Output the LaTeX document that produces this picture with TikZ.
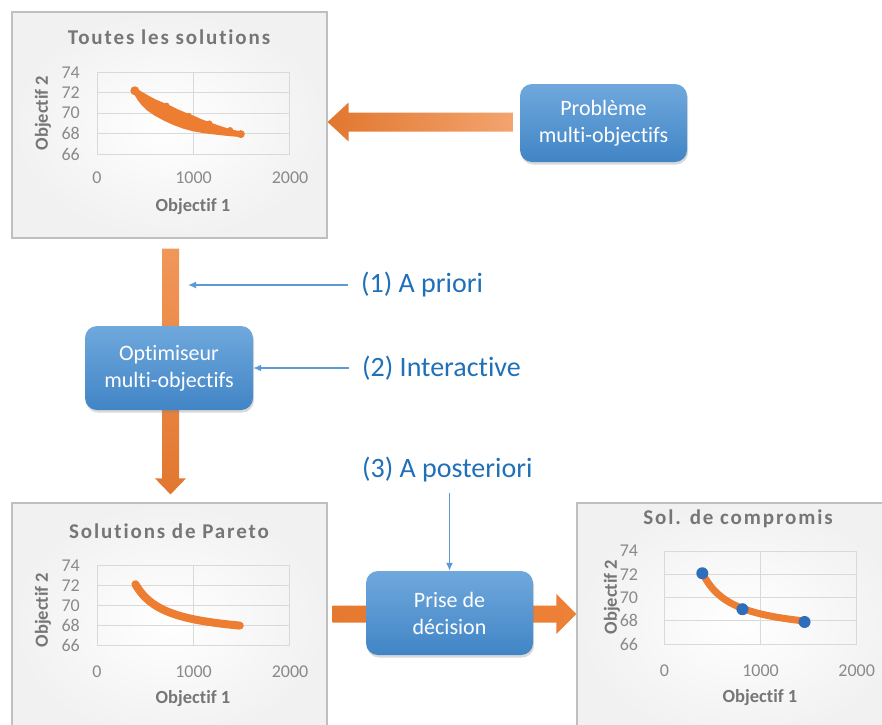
\documentclass[tikz,border=0pt]{standalone}
\usepackage{fontspec}
\setmainfont{Carlito}[Ligatures=NoCommon]
\usetikzlibrary{calc,arrows.meta,shadows}
\definecolor{orng}{HTML}{ED7D31}
\definecolor{dotblue}{HTML}{2F6EBA}
\definecolor{framegray}{HTML}{BFBFBF}
\definecolor{bggray}{HTML}{F1F1F1}
\definecolor{gridgray}{HTML}{D9D9D9}
\definecolor{titlegray}{HTML}{767676}
\definecolor{tickgray}{HTML}{8A8A8A}
\definecolor{boxtop}{HTML}{6FA8DC}
\definecolor{boxbot}{HTML}{4185C6}
\definecolor{lblblue}{HTML}{1F70B8}
\definecolor{linkblue}{HTML}{5B9BD5}
\begin{document}
\begin{tikzpicture}[x=1pt,y=-1pt,
  chartframe/.style={rectangle, draw=framegray, line width=1.2pt, inner color=white, outer color=bggray, inner sep=0},
  bluebox/.style={rectangle, rounded corners=12pt, top color=boxtop, bottom color=boxbot, text=white, align=center,
    font=\fontsize{22}{27}\selectfont, inner sep=0, minimum width=167pt,
    drop shadow={shadow xshift=1pt, shadow yshift=-2.5pt, opacity=0.3}},
  ctitle/.style={font=\fontsize{21}{24}\selectfont\bfseries\addfontfeatures{LetterSpace=9}, text=titlegray, inner sep=0},
  tick/.style={font=\fontsize{18}{20}\selectfont, text=tickgray, inner sep=0},
  axtitle/.style={font=\fontsize{18.5}{20}\selectfont\bfseries, text=titlegray, inner sep=0},
  gridl/.style={draw=gridgray, line width=1pt},
  lbl/.style={font=\fontsize{28}{32}\selectfont, text=lblblue, inner sep=0, anchor=west},
  link/.style={draw=linkblue, line width=1.3pt, -{Latex[length=8pt,width=7pt]}},
  curve/.style={draw=orng, line cap=round, line join=round}
]
\useasboundingbox (0,0) rectangle (882,724);
\clip (0,0) rectangle (882,724);

% ---------- chart frames ----------
\node[chartframe, minimum width=315pt, minimum height=226pt] (c1) at (169.5,125) {};
\node[chartframe, minimum width=315pt, minimum height=237pt] (c2) at (169.5,621.5) {};
\node[chartframe, minimum width=326pt, minimum height=237pt] (c3) at (740,621.5) {};

% ---------- chart 1 ----------
\node[ctitle] (t1) at (169,37) {Toutes les solutions};
\node[axtitle] (x1) at (193,207) {Objectif 1};
\node[axtitle, rotate=90] (y1) at (43,113) {Objectif 2};
\begin{scope}[shift={(97,154)}, x=0.0965pt, y=10.2pt]
  \draw[gridl] (0,0) rectangle (2000,8);
  \foreach \v in {2,4,6} \draw[gridl] (0,\v) -- (2000,\v);
  \draw[gridl] (1000,0) -- (1000,8);
  \foreach \v/\t in {0/66,2/68,4/70,6/72,8/74}
    \node[tick, anchor=east] at ([xshift=-17pt]0,\v) {\t};
  \foreach \u in {0,1000,2000}
    \node[tick] at ([yshift=-24pt]\u,0) {\u};
  \filldraw[orng, line width=3pt, line join=round]
    (385,6.4) -- (430,6.12) -- (480,5.85) -- (540,5.52) -- (600,5.22) -- (680,4.9) -- (756,4.6)
    -- (830,4.25) -- (900,3.97) -- (1000,3.6) -- (1070,3.3) -- (1140,3.05) -- (1220,2.78)
    -- (1300,2.52) -- (1360,2.35) -- (1420,2.2) -- (1500,2.05)
    -- (1500,1.8) -- (1400,1.88) -- (1300,1.97) -- (1200,2.08) -- (1100,2.2) -- (1000,2.37)
    -- (900,2.62) -- (800,2.97) -- (700,3.4) -- (600,3.92) -- (530,4.38) -- (480,4.83)
    -- (440,5.3) -- (410,5.75) -- (395,6.05) -- cycle;
  \fill[orng] (392,6.2) circle[radius=4.5pt];
  \fill[orng] (720,4.75) circle[radius=3pt];
  \fill[orng] (950,3.75) circle[radius=3pt];
  \fill[orng] (1165,3.0) circle[radius=3pt];
  \fill[orng] (1380,2.35) circle[radius=3pt];
  \fill[orng] (1490,1.95) circle[radius=4pt];
\end{scope}

% ---------- chart 2 ----------
\node[ctitle] (t2) at (169,531) {Solutions de Pareto};
\node[axtitle] (x2) at (193,699) {Objectif 1};
\node[axtitle, rotate=90] (y2) at (43,610) {Objectif 2};
\begin{scope}[shift={(97,645.7)}, x=0.0965pt, y=10pt]
  \draw[gridl] (0,0) rectangle (2000,8);
  \foreach \v in {2,4,6} \draw[gridl] (0,\v) -- (2000,\v);
  \draw[gridl] (1000,0) -- (1000,8);
  \foreach \v/\t in {0/66,2/68,4/70,6/72,8/74}
    \node[tick, anchor=east] at ([xshift=-17pt]0,\v) {\t};
  \foreach \u in {0,1000,2000}
    \node[tick] at ([yshift=-26pt]\u,0) {\u};
  \draw[curve, line width=8pt] plot[domain=398:1480, samples=40] (\x,{0.8+1700/(\x-80)});
\end{scope}

% ---------- chart 3 ----------
\node[ctitle] (t3) at (738,519) {Sol. de compromis};
\node[axtitle] (x3) at (760,698) {Objectif 1};
\node[axtitle, rotate=90] (y3) at (612,597) {Objectif 2};
\begin{scope}[shift={(664.3,644)}, x=0.0962pt, y=11.6pt]
  \draw[gridl] (0,0) rectangle (2000,8);
  \foreach \v in {2,4,6} \draw[gridl] (0,\v) -- (2000,\v);
  \draw[gridl] (1000,0) -- (1000,8);
  \foreach \v/\t in {0/66,2/68,4/70,6/72,8/74}
    \node[tick, anchor=east] at ([xshift=-26pt]0,\v) {\t};
  \foreach \u in {0,1000,2000}
    \node[tick] at ([yshift=-26.7pt]\u,0) {\u};
  \draw[curve, line width=7pt] plot[domain=398:1458, samples=40] (\x,{0.75+1700/(\x-80)});
  \fill[dotblue] (395,6.1) circle[radius=6pt];
  \fill[dotblue] (812,3.0) circle[radius=6pt];
  \fill[dotblue] (1458,1.9) circle[radius=6pt];
\end{scope}

% ---------- coordinates for the fat arrows ----------
\coordinate (vtop) at ($(c1.south)+(1,10)$);
\coordinate (vtip) at ($(c2.north)+(1,-8)$);

% ---------- blue boxes (positions) ----------
\path (603.5,123) coordinate (probc);
\path (169,368) coordinate (optc);
\path (449.5,613) coordinate (prisec);

% vertical fat arrow (behind Optimiseur box)
\shade[top color=orng!80!white, bottom color=orng!95!black]
  ($(vtop)+(-8.5,0)$) -- ($(vtip)+(-8.5,-16)$) -- ($(vtip)+(-15.5,-16)$) -- (vtip)
  -- ($(vtip)+(15.5,-16)$) -- ($(vtip)+(8.5,-16)$) -- ($(vtop)+(8.5,0)$) -- cycle;

% boxes
\node[bluebox, minimum height=78pt] (prob) at (probc) {Problème\\multi-objectifs};
\node[bluebox, minimum width=168pt, minimum height=84pt] (opt) at (optc) {Optimiseur\\multi-objectifs};

% horizontal fat arrow: Problème -> chart 1
\coordinate (htail) at ($(prob.west)+(-7,-1)$);
\coordinate (htip) at ($(c1.east |- prob.west)+(0,-1)$);
\shade[left color=orng!95!black, right color=orng!70!white]
  ($(htail)+(0,-9.5)$) -- ($(htip)+(21,-9.5)$) -- ($(htip)+(21,-19.5)$) -- (htip)
  -- ($(htip)+(21,19.5)$) -- ($(htip)+(21,9.5)$) -- ($(htail)+(0,9.5)$) -- cycle;

% Prise de decision fat arrow: chart 2 -> chart 3 (behind box)
\coordinate (ptail) at ($(c2.east |- prisec)+(5,1)$);
\coordinate (ptip) at ($(c3.west |- prisec)+(0,1)$);
\shade[left color=orng!97!black, right color=orng!97!white]
  ($(ptail)+(0,-8.5)$) -- ($(ptip)+(-20,-8.5)$) -- ($(ptip)+(-20,-20)$) -- (ptip)
  -- ($(ptip)+(-20,20)$) -- ($(ptip)+(-20,8.5)$) -- ($(ptail)+(0,8.5)$) -- cycle;
\node[bluebox, minimum height=84pt] (prise) at (prisec) {Prise de\\décision};

% ---------- labels and thin links ----------
\node[lbl] (l1) at (361,285) {(1) A priori};
\node[lbl] (l2) at (362,368) {(2) Interactive};
\node[lbl] (l3) at (362,470) {(3) A posteriori};
\coordinate (p1) at ($(vtop)+(17.5,35)$);
\draw[link] ([xshift=-13pt]l1.west) -- (l1.west -| p1);
\draw[link] ([xshift=-13pt]l2.west) -- (l2.west -| opt.east);
\coordinate (l3b) at ([yshift=-10pt]l3.south);
\draw[link] (l3b -| prise.north) -- (prise.north);
\end{tikzpicture}
\end{document}
